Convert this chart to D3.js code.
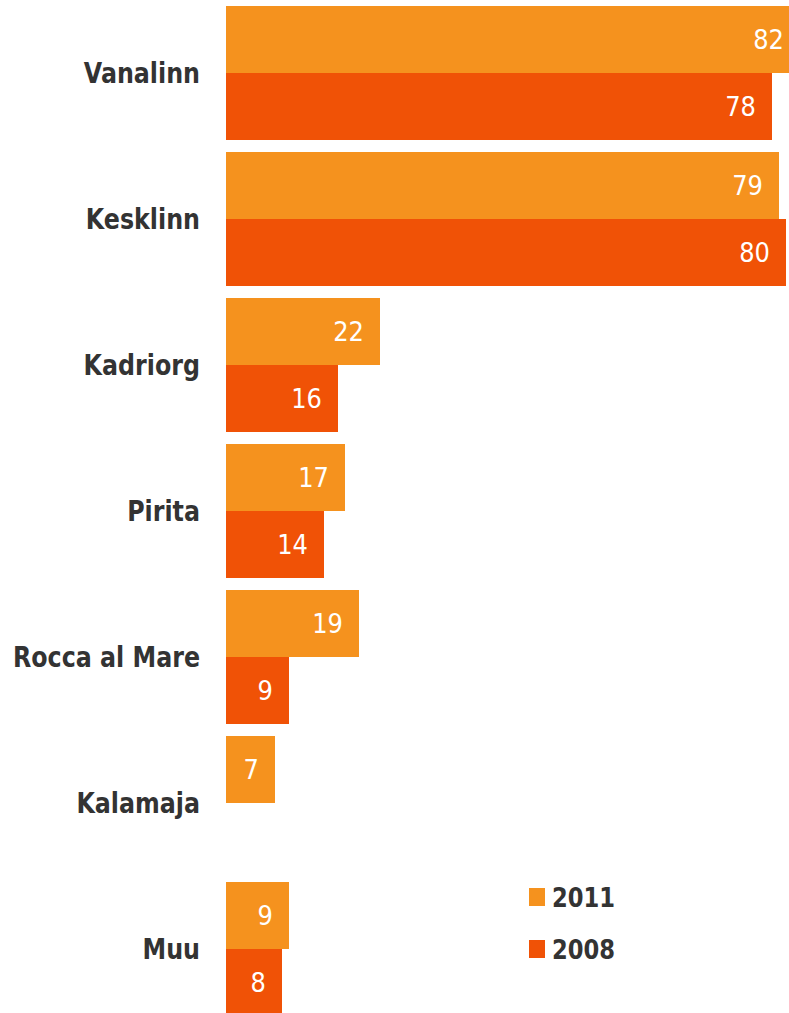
<!DOCTYPE html>
<html><head><meta charset="utf-8">
<script src="https://cdn.jsdelivr.net/npm/d3@7"></script>
<style>body{margin:0;background:#fff}svg{display:block}</style>
</head><body>
<script>
const categories = ["Vanalinn","Kesklinn","Kadriorg","Pirita","Rocca al Mare","Kalamaja","Muu"];
const series = ["2011","2008"];
const values2011 = [82,79,22,17,19,7,9];
const values2008 = [78,80,16,14,9,null,8];
const colors = ["#F5921E","#F05206"];

const W = 789, H = 1013;
const svg = d3.select("body").append("svg").attr("width", W).attr("height", H);

const y = d3.scaleBand().domain(categories).range([6, 1016]).paddingInner(12/146).paddingOuter(0);
const y1 = d3.scaleBand().domain(series).range([0, y.bandwidth()]);
const x = d3.scaleLinear().domain([0, 82]).range([226, 800]);

const data = [];
categories.forEach((c,i)=>{
  [values2011[i], values2008[i]].forEach((v,j)=>{
    if (v != null) data.push({cat:c, ser:series[j], v, color:colors[j]});
  });
});

svg.selectAll("rect.bar").data(data).join("rect")
  .attr("class","bar")
  .attr("x", x(0))
  .attr("y", d => y(d.cat) + y1(d.ser))
  .attr("width", d => x(d.v) - x(0))
  .attr("height", y1.bandwidth())
  .attr("fill", d => d.color);

const sxV = 0.93;
svg.selectAll("g.val").data(data).join("g")
  .attr("class","val")
  .attr("transform", d => `translate(${x(d.v) - 16},${y(d.cat) + y1(d.ser) + y1.bandwidth()/2}) scale(${sxV},1)`)
  .append("text")
  .attr("text-anchor","end")
  .attr("dy","0.36em")
  .attr("font-family","DejaVu Sans")
  .attr("font-size",26)
  .attr("fill","#fff")
  .text(d => d.v);

const sxL = 0.82;
svg.selectAll("g.cat").data(categories).join("g")
  .attr("class","cat")
  .attr("transform", c => `translate(200,${y(c) + y.bandwidth()/2}) scale(${sxL},1)`)
  .append("text")
  .attr("text-anchor","end")
  .attr("dy","0.36em")
  .attr("font-family","DejaVu Sans")
  .attr("font-weight","bold")
  .attr("font-size",29)
  .attr("fill","#333")
  .text(c => c);

const legendY = [897, 949];
const lg = svg.selectAll("g.leg").data(series).join("g")
  .attr("class","leg")
  .attr("transform", (s,i) => `translate(529,${legendY[i]})`);
lg.append("rect").attr("x",0).attr("y",-9).attr("width",16).attr("height",18).attr("fill",(s,i)=>colors[i]);
lg.append("g").attr("transform","translate(23,0) scale(0.84,1)")
  .append("text")
  .attr("dy","0.36em")
  .attr("font-family","DejaVu Sans")
  .attr("font-weight","bold")
  .attr("font-size",27)
  .attr("fill","#333")
  .text(s => s);
</script>
</body></html>
